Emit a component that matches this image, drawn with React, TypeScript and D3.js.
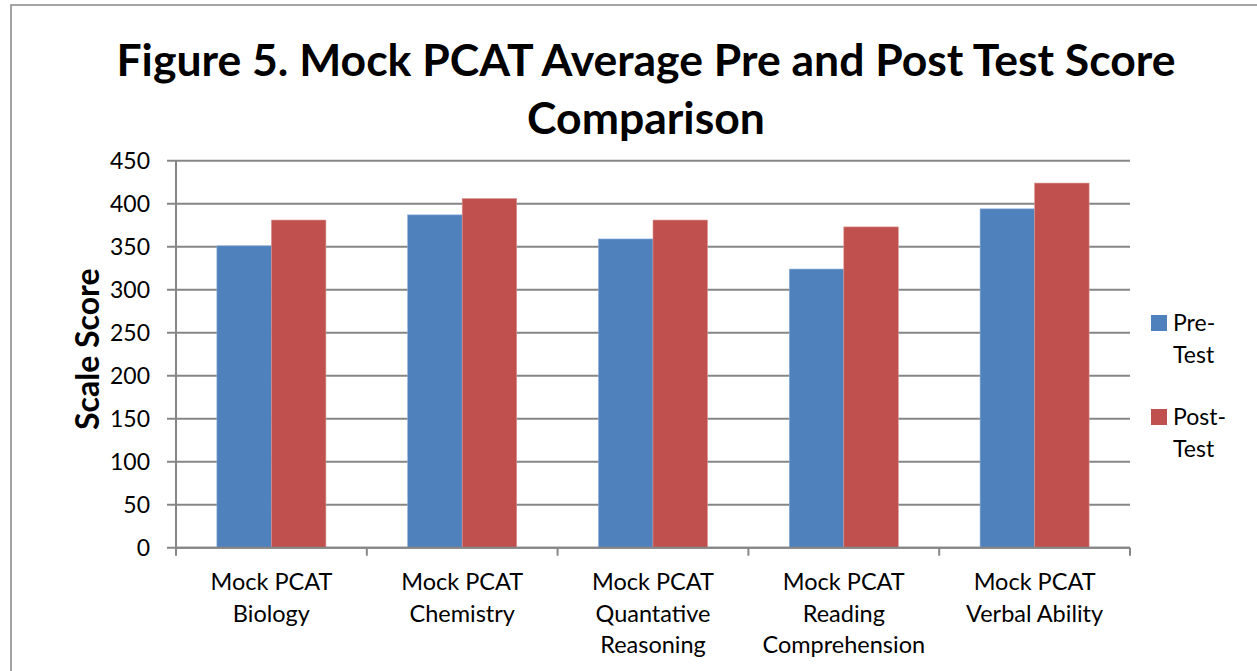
import React from "react";
import * as d3 from "d3";

const categories = [
  ["Mock PCAT", "Biology"],
  ["Mock PCAT", "Chemistry"],
  ["Mock PCAT", "Quantative", "Reasoning"],
  ["Mock PCAT", "Reading", "Comprehension"],
  ["Mock PCAT", "Verbal Ability"],
];
const preTest = [351, 387, 359, 324, 394];
const postTest = [381, 406, 381, 373, 424];
const yTicks = [0, 50, 100, 150, 200, 250, 300, 350, 400, 450];
const seriesNames = [["Pre-", "Test"], ["Post-", "Test"]];
const colours = ["#4F81BD", "#C0504D"];

const W = 1257;
const H = 671;
const FONT = "Lato, 'Open Sans', sans-serif";

export default function App() {
  const left = 176;
  const right = 1130;
  const top = 160.7;
  const bottom = 547.7;

  const x = d3.scaleBand<number>()
    .domain(d3.range(categories.length))
    .range([left, right])
    .paddingInner(0)
    .paddingOuter(0);
  const y = d3.scaleLinear().domain([0, 450]).range([bottom, top]);

  const bw = x.bandwidth();
  const barW = bw / 3.5;
  const groupOff = (bw - 2 * barW) / 2;

  const boundaries = d3.range(categories.length + 1).map(i => left + i * bw);

  return (
    <div style={{ position: "fixed", left: 0, top: 0 }}>
      <svg width={W} height={H} style={{ display: "block", background: "#fff" }}>
        {/* frame */}
        <rect x={11} y={5} width={W + 20} height={H + 20} fill="none" stroke="#888" strokeWidth={1.5} />

        {/* title */}
        <text x={646} y={76} textAnchor="middle" fontFamily={FONT} fontWeight="bold" fontSize={44.5} fill="#000">
          Figure 5. Mock PCAT Average Pre and Post Test Score
        </text>
        <text x={646} y={134} textAnchor="middle" fontFamily={FONT} fontWeight="bold" fontSize={44.5} fill="#000">
          Comparison
        </text>

        {/* gridlines */}
        {yTicks.map(t => (
          <line key={"g" + t} x1={left - 9} x2={right} y1={y(t)} y2={y(t)} stroke="#868686" strokeWidth={2} />
        ))}

        {/* y labels */}
        {yTicks.map(t => (
          <text key={"yl" + t} x={150} y={y(t) + 8} textAnchor="end" fontFamily={FONT} fontSize={23} fill="#000">
            {t}
          </text>
        ))}

        <text
          transform={`translate(99,${(top + bottom) / 2 - 5}) rotate(-90)`}
          textAnchor="middle"
          fontFamily={FONT}
          fontWeight="bold"
          fontSize={32}
          fill="#000"
        >
          Scale Score
        </text>

        {/* bars */}
        {categories.map((_, i) => {
          const x0 = (x(i) as number) + groupOff;
          return (
            <g key={"b" + i}>
              <rect x={x0} y={y(preTest[i])} width={barW} height={y(0) - y(preTest[i])} fill={colours[0]} stroke="#8eaed6" strokeWidth={0.6} />
              <rect x={x0 + barW} y={y(postTest[i])} width={barW} height={y(0) - y(postTest[i])} fill={colours[1]} stroke="#d99593" strokeWidth={0.6} />
            </g>
          );
        })}

        {/* axes */}
        <line x1={left} x2={left} y1={top} y2={bottom} stroke="#868686" strokeWidth={2} />
        <line x1={left} x2={right} y1={bottom} y2={bottom} stroke="#868686" strokeWidth={2} />
        {boundaries.map((b, i) => (
          <line key={"xt" + i} x1={b} x2={b} y1={bottom} y2={bottom + 8} stroke="#868686" strokeWidth={2} />
        ))}

        {/* category labels */}
        {categories.map((lines, i) => (
          <text key={"c" + i} textAnchor="middle" fontFamily={FONT} fontSize={23.5} fill="#000">
            {lines.map((l, j) => (
              <tspan key={j} x={(x(i) as number) + bw / 2} y={590 + j * 31.5}>
                {l}
              </tspan>
            ))}
          </text>
        ))}

        {/* legend */}
        {seriesNames.map((lines, i) => {
          const ly = 315 + i * 94;
          return (
            <g key={"l" + i}>
              <rect x={1151} y={ly} width={16} height={16} fill={colours[i]} />
              {lines.map((l, j) => (
                <text key={j} x={1173} y={ly + 16 + j * 32} fontFamily={FONT} fontSize={23} fill="#000">
                  {l}
                </text>
              ))}
            </g>
          );
        })}
      </svg>
    </div>
  );
}
